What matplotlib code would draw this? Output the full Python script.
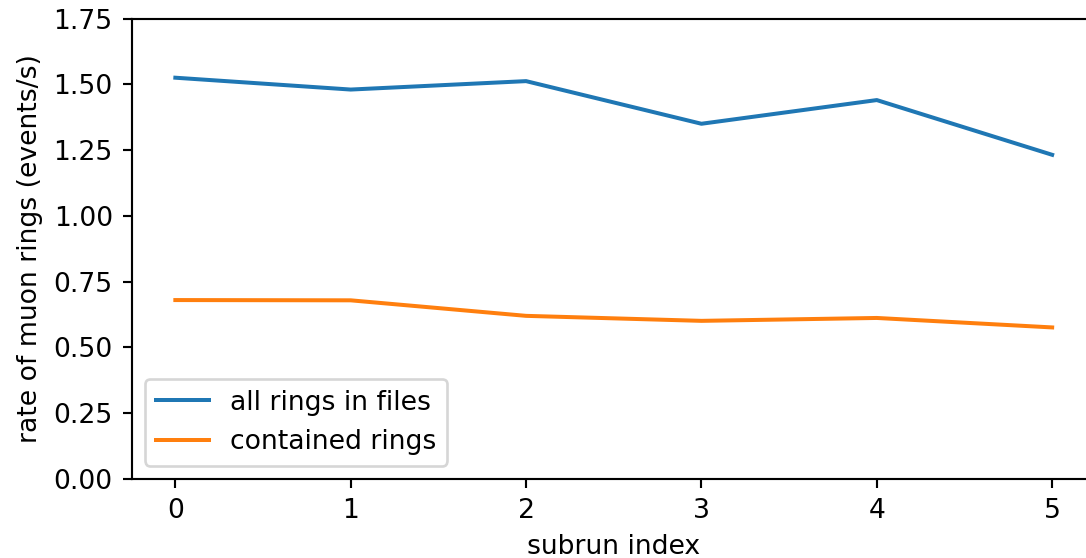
import matplotlib
matplotlib.use("Agg")
import matplotlib.pyplot as plt
from matplotlib.ticker import MultipleLocator

subrun = [0, 1, 2, 3, 4, 5]
all_rings = [1.525, 1.480, 1.512, 1.350, 1.440, 1.232]
contained = [0.680, 0.679, 0.620, 0.601, 0.612, 0.576]

W, H = 1086, 558
dpi = 192
fig = plt.figure(figsize=(W / dpi, H / dpi), dpi=dpi)
left, right, top, bottom = 131.5, 1096, 18.5, 479
ax = fig.add_axes([left / W, 1 - bottom / H, (right - left) / W, (bottom - top) / H])
ax.plot(subrun, all_rings, label="all rings in files")
ax.plot(subrun, contained, label="contained rings")
ax.set_xlim(-0.25, 5.25)
ax.set_ylim(0, 1.75)
ax.yaxis.set_major_locator(MultipleLocator(0.25))
ax.set_xlabel("subrun index")
ax.set_ylabel("rate of muon rings (events/s)")
ax.legend(loc="lower left")
fig.savefig("out.png", dpi=dpi)
